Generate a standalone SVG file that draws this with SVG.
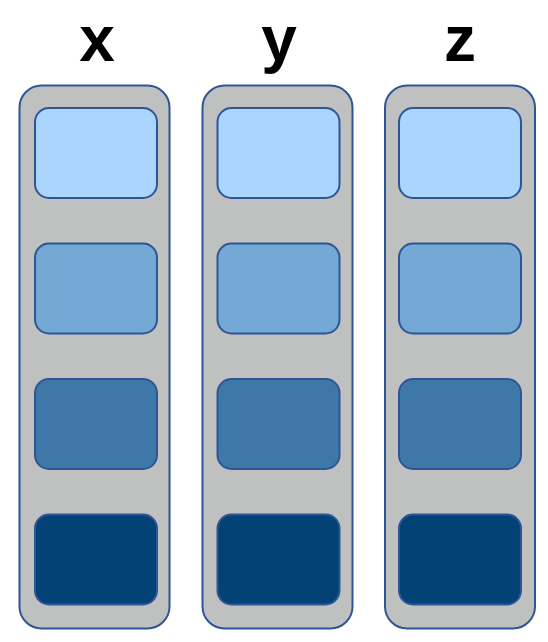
<svg xmlns="http://www.w3.org/2000/svg" width="548" height="642" viewBox="0 0 548 642">
<style>
.col{fill:#bfc0c0;stroke:#2f5597;stroke-width:2}
.cell{stroke:#2f5597;stroke-width:2}
.c1{fill:#a9d5ff}.c2{fill:#75a9d5}.c3{fill:#3e78a8}.c4{fill:#024275}
.lbl{font-family:"Liberation Sans",Arial,sans-serif;font-weight:bold;font-size:64px;fill:#000;text-anchor:middle}
</style>
<rect width="548" height="642" fill="#fff"/>
<g id="col-x">
<rect class="col" x="19.5" y="85.5" width="150" height="543" rx="22"/>
<text class="lbl" x="97" y="61">x</text>
<rect class="cell c1" x="35" y="108" width="122" height="90" rx="14"/>
<rect class="cell c2" x="35" y="243.5" width="122" height="90" rx="14"/>
<rect class="cell c3" x="35" y="379" width="122" height="90" rx="14"/>
<rect class="cell c4" x="35" y="514.5" width="122" height="90" rx="14"/>
</g>
<g id="col-y">
<rect class="col" x="202.5" y="85.5" width="150" height="543" rx="22"/>
<text class="lbl" x="279" y="61">y</text>
<rect class="cell c1" x="217.5" y="108" width="122" height="90" rx="14"/>
<rect class="cell c2" x="217.5" y="243.5" width="122" height="90" rx="14"/>
<rect class="cell c3" x="217.5" y="379" width="122" height="90" rx="14"/>
<rect class="cell c4" x="217.5" y="514.5" width="122" height="90" rx="14"/>
</g>
<g id="col-z">
<rect class="col" x="385" y="85.5" width="150" height="543" rx="22"/>
<text class="lbl" x="460" y="61">z</text>
<rect class="cell c1" x="399" y="108" width="122" height="90" rx="14"/>
<rect class="cell c2" x="399" y="243.5" width="122" height="90" rx="14"/>
<rect class="cell c3" x="399" y="379" width="122" height="90" rx="14"/>
<rect class="cell c4" x="399" y="514.5" width="122" height="90" rx="14"/>
</g>
<g id="connectors"/>
</svg>
